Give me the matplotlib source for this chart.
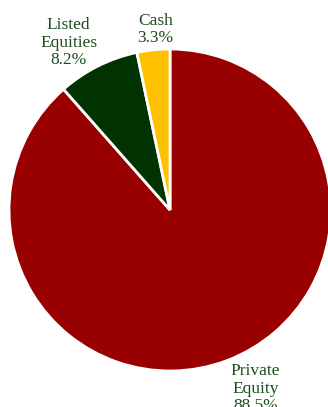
import numpy as np
import matplotlib
matplotlib.use('Agg')
import matplotlib.pyplot as plt

# 资产配置数据
labels = ['Private\nEquity', 'Listed\nEquities', 'Cash']
values = [88.5, 8.2, 3.3]
colors = ['#990000', '#003300', '#FFC000']

W, H = 328, 407
cx, cy, r = 170, 210, 161

fig = plt.figure(figsize=(W / 100, H / 100), dpi=100)
ax = fig.add_axes([0, 0, 1, 1])

wedges, _ = ax.pie(values, colors=colors, startangle=90, counterclock=False,
                   wedgeprops=dict(edgecolor='white', linewidth=2))

# pie 会重设坐标范围，画完再设
ax.set_xlim(-cx / r, (W - cx) / r)
ax.set_ylim(-(H - cy) / r, cy / r)
ax.set_aspect('equal')
ax.axis('off')

# 标签位置（相对于饼图中心，按半径倍数）
label_pos = [(0.53, -1.11), (-0.63, 1.04), (-0.09, 1.12)]
for lab, val, (x, y) in zip(labels, values, label_pos):
    ax.text(x, y, '%s\n%.1f%%' % (lab, val), ha='center', va='center',
            fontsize=12.5, color='#1e4d1e', family='Liberation Serif',
            linespacing=1.12)

fig.savefig('out.png', dpi=100)
